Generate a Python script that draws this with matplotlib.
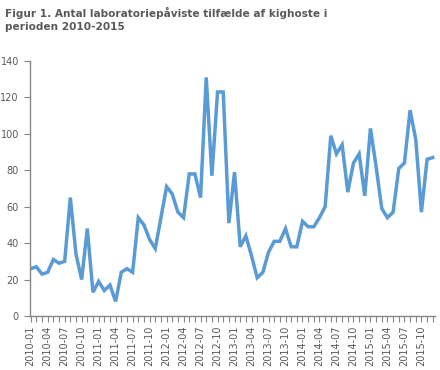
import matplotlib
matplotlib.use("Agg")
import matplotlib.pyplot as plt
import numpy as np

# Monthly counts, 2010-01 .. 2015-12
years = [2010, 2011, 2012, 2013, 2014, 2015]
cases_2010 = [26, 27, 23, 24, 31, 29, 30, 65, 34, 20, 48, 13]
cases_2011 = [19, 14, 17, 8, 24, 26, 24, 54, 50, 42, 37, 54]
cases_2012 = [71, 67, 57, 54, 78, 78, 65, 131, 77, 123, 123, 51]
cases_2013 = [79, 38, 44, 33, 21, 24, 35, 41, 41, 48, 38, 38]
cases_2014 = [52, 49, 49, 54, 60, 99, 89, 94, 68, 84, 89, 66]
cases_2015 = [103, 82, 59, 54, 57, 81, 84, 113, 97, 57, 86, 87]

values = cases_2010 + cases_2011 + cases_2012 + cases_2013 + cases_2014 + cases_2015
months = [f"{y}-{m:02d}" for y in years for m in range(1, 13)]

title = "Figur 1. Antal laboratoriepåviste tilfælde af kighoste i\nperioden 2010-2015"

text_col = "#595959"
axis_col = "#868686"
line_col = "#5B9BD5"

fig = plt.figure(figsize=(4.4, 3.7), dpi=100)
ax = fig.add_axes([30 / 440, 54 / 370, 405 / 440, 255 / 370])

x = np.arange(len(values))
ax.plot(x, values, color=line_col, linewidth=2.5, solid_joinstyle="miter")

ax.set_xlim(-0.12, 71.4)
ax.set_ylim(0, 140)
ax.set_yticks(range(0, 141, 20))
ax.set_xticks(x, minor=True)
ax.set_xticks(x[::3])
ax.set_xticklabels(months[::3], rotation=90)

for s in ["top", "right"]:
    ax.spines[s].set_visible(False)
for s in ["left", "bottom"]:
    ax.spines[s].set_color(axis_col)
    ax.spines[s].set_linewidth(1.0)

ax.tick_params(axis="both", which="both", colors=axis_col, labelcolor=text_col,
               labelsize=7, length=4, width=0.8)
ax.tick_params(axis="x", which="major", pad=3)
ax.tick_params(axis="y", pad=4)

fig.text(5 / 440, 1 - 7 / 370, title, ha="left", va="top", fontsize=7.6,
         fontweight="bold", color=text_col, linespacing=1.35)

fig.savefig("out.png", dpi=100)
